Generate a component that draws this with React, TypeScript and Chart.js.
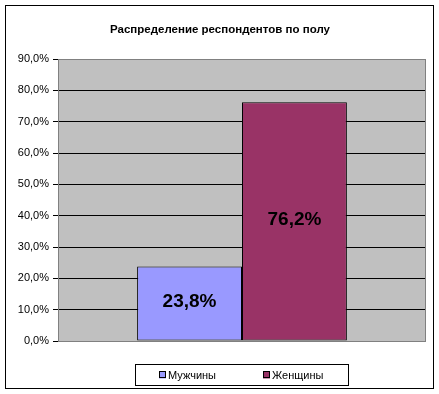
import React, { useEffect, useRef } from "react";
import { Chart, registerables } from "chart.js";

Chart.register(...registerables);

const title = "Распределение респондентов по полу";
const categories = [""];
const seriesNames = ["Мужчины", "Женщины"];
const menValues = [23.8];
const womenValues = [76.2];
const seriesColors = ["#9999FF", "#993366"];
const yMax = 90;
const yStep = 10;

const FONT = "'Liberation Sans', Arial, sans-serif";
const fmt = (v: number) => v.toFixed(1).replace(".", ",") + "%";

const decor = {
  id: "decor",
  beforeDraw(chart: any) {
    const { ctx, chartArea: a, width, height } = chart;
    ctx.save();
    ctx.fillStyle = "#FFFFFF";
    ctx.fillRect(0, 0, width, height);
    ctx.fillStyle = "#C0C0C0";
    ctx.fillRect(a.left, a.top, a.right - a.left, a.bottom - a.top);
    ctx.strokeStyle = "#000000";
    ctx.lineWidth = 1;
    ctx.strokeRect(5.5, 5.5, 428, 383);
    ctx.fillStyle = "#000000";
    ctx.font = `bold 11.5px ${FONT}`;
    ctx.textAlign = "center";
    ctx.textBaseline = "middle";
    ctx.fillText(title, 220, 30);
    ctx.restore();
  },
  afterDatasetsDraw(chart: any) {
    const { ctx, chartArea: a } = chart;
    ctx.save();
    ctx.strokeStyle = "#808080";
    ctx.lineWidth = 1;
    ctx.strokeRect(a.left + 0.5, a.top + 0.5, a.right - a.left - 1, a.bottom - a.top);
    ctx.fillStyle = "#000000";
    ctx.font = `bold 19px ${FONT}`;
    ctx.textAlign = "center";
    ctx.textBaseline = "middle";
    chart.data.datasets.forEach((ds: any, i: number) => {
      const meta = chart.getDatasetMeta(i);
      meta.data.forEach((bar: any, j: number) => {
        const v = ds.data[j];
        const y = (bar.y + bar.base) / 2 - 2;
        ctx.fillText(fmt(v), bar.x, y);
      });
    });
    const lx = 135.5, ly = 364.5, lw = 213, lh = 21;
    ctx.fillStyle = "#FFFFFF";
    ctx.fillRect(lx, ly, lw, lh);
    ctx.strokeStyle = "#000000";
    ctx.strokeRect(lx, ly, lw, lh);
    ctx.font = `11px ${FONT}`;
    ctx.textAlign = "left";
    const xs = [159, 263];
    chart.data.datasets.forEach((ds: any, i: number) => {
      const x = xs[i];
      const cy = ly + lh / 2;
      ctx.fillStyle = ds.backgroundColor;
      ctx.fillRect(x, cy - 3.5, 7, 7);
      ctx.strokeStyle = "#000000";
      ctx.strokeRect(x + 0.5, cy - 3.5, 6, 6);
      ctx.fillStyle = "#000000";
      ctx.fillText(ds.label, x + 9, cy + 0.5);
    });
    ctx.restore();
  },
};

export default function App() {
  const ref = useRef<HTMLCanvasElement>(null);
  useEffect(() => {
    if (!ref.current) return;
    const chart = new Chart(ref.current, {
      type: "bar",
      data: {
        labels: categories,
        datasets: [
          { label: seriesNames[0], data: menValues, backgroundColor: seriesColors[0], borderColor: "#000000", borderWidth: 1, borderSkipped: false },
          { label: seriesNames[1], data: womenValues, backgroundColor: seriesColors[1], borderColor: "#000000", borderWidth: 1, borderSkipped: false },
        ],
      },
      options: {
        animation: false,
        responsive: false,
        devicePixelRatio: 1,
        layout: { padding: { left: 0, right: 13, top: 59, bottom: 53 } },
        plugins: { legend: { display: false }, title: { display: false }, tooltip: { enabled: false } },
        datasets: { bar: { categoryPercentage: 0.57, barPercentage: 1 } },
        scales: {
          x: { display: false },
          y: {
            min: 0,
            max: yMax,
            afterFit: (s: any) => { s.width = 58; },
            ticks: {
              stepSize: yStep,
              callback: (v: any) => fmt(Number(v)),
              color: "#000000",
              font: { family: FONT, size: 11 },
              padding: 4,
            },
            grid: {
              color: (c: any) => (c.tick && (c.tick.value === 0 || c.tick.value === yMax) ? "rgba(0,0,0,0)" : "#000000"),
              tickColor: "#000000",
              tickLength: 5,
              lineWidth: 1,
            },
            border: { display: true, color: "#808080" },
          },
        },
      },
      plugins: [decor],
    });
    return () => chart.destroy();
  }, []);
  return (
    <div style={{ position: "absolute", left: 0, top: 0, width: 439, height: 394 }}>
      <canvas ref={ref} width={439} height={394} style={{ width: 439, height: 394, display: "block" }} />
    </div>
  );
}
